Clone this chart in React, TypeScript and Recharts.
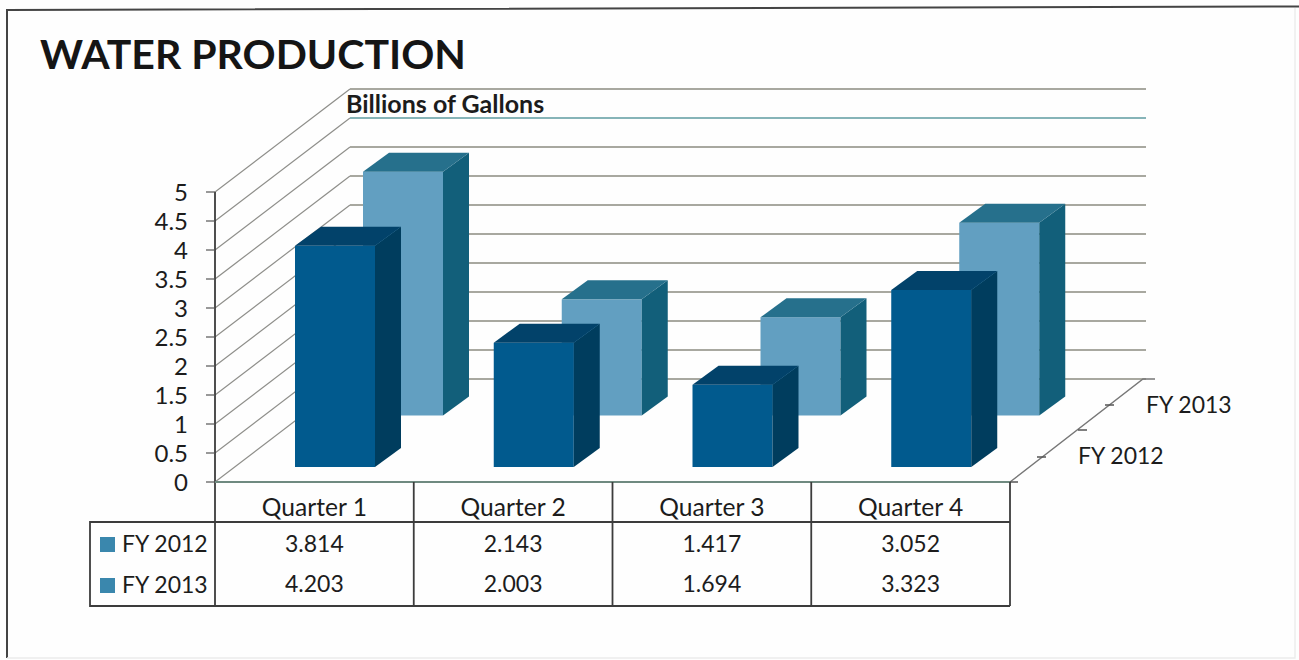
import React from "react";
import { BarChart, Bar, CartesianGrid, XAxis, YAxis } from "recharts";

const quarters = ["Quarter 1", "Quarter 2", "Quarter 3", "Quarter 4"];
const fy2012 = [3.814, 2.143, 1.417, 3.052];
const fy2013 = [4.203, 2.003, 1.694, 3.323];
const seriesNames = ["FY 2012", "FY 2013"];
const yTicks = [0, 0.5, 1, 1.5, 2, 2.5, 3, 3.5, 4, 4.5, 5];

const data = quarters.map((quarter, i) => ({
  quarter,
  fy2012: fy2012[i],
  fy2013: fy2013[i],
}));

const FONT = "Lato, Carlito, sans-serif";
const TEXT = "#1c1c1c";
const RULE = "#3c3c3c";

// plot box of the front plane, and how far the floor runs back from it
const LEFT = 215;
const RIGHT = 1010;
const TOP = 192;
const BOTTOM = 482;
const DEPTH_X = 135;
const DEPTH_Y = 103;
const HALF_BAND = (RIGHT - LEFT) / 8;

// table rows under the floor
const TABLE_LEFT = 90;
const HEAD_Y = 522;
const TABLE_BOTTOM = 606;
const ROW_BASELINES = [552, 593];

const FRONT_COLORS = { face: "#015a8e", side: "#003d5e", top: "#02426a" };
const BACK_COLORS = { face: "#629fc1", side: "#125f7a", top: "#26708c" };

type BoxColors = typeof FRONT_COLORS;

// a bar drawn as a box, pushed back along the floor by (dx, dy)
const box3d =
  (dx: number, dy: number, colors: BoxColors) =>
  (props: any) => {
    const { x, y, width, height } = props;
    const left = x + dx;
    const right = left + width;
    const top = y + dy;
    const bottom = top + height;
    const sx = 26;
    const sy = 19;
    return (
      <g>
        <rect x={left} y={top} width={width} height={height} fill={colors.face} />
        <polygon
          points={`${right},${top} ${right + sx},${top - sy} ${right + sx},${bottom - sy} ${right},${bottom}`}
          fill={colors.side}
        />
        <polygon
          points={`${left},${top} ${left + sx},${top - sy} ${right + sx},${top - sy} ${right},${top}`}
          fill={colors.top}
        />
      </g>
    );
  };

// gridline: up the side wall, then across the back wall
const WallLine = (props: any) => {
  const y = props.y1;
  const backX = LEFT + DEPTH_X;
  const backY = y - DEPTH_Y;
  const nearTop = Math.abs(y - (TOP + (BOTTOM - TOP) / 10)) < 1;
  return (
    <g fill="none">
      <line x1={LEFT} y1={y} x2={backX} y2={backY} stroke="#8e8e8a" strokeWidth={1.2} />
      <line
        x1={backX}
        y1={backY}
        x2={LEFT + 931}
        y2={backY}
        stroke={nearTop ? "#86b4b8" : "#a8a8a0"}
        strokeWidth={2}
      />
    </g>
  );
};

const WallTick = (props: any) => {
  const { y, payload } = props;
  return (
    <g>
      <line x1={LEFT - 9} x2={LEFT} y1={y} y2={y} stroke="#555" strokeWidth={1.2} />
      <text x={188} y={y + 9} textAnchor="end" fontFamily={FONT} fontSize={24} fill={TEXT}>
        {payload.value}
      </text>
    </g>
  );
};

// x tick: one column of the table, header plus both series values
const TableColumn = (props: any) => {
  const { x, payload, index } = props;
  return (
    <g fontFamily={FONT} fill={TEXT} textAnchor="middle">
      <text x={x} y={516} fontSize={24.6}>{payload.value}</text>
      <text x={x} y={ROW_BASELINES[0]} fontSize={23}>{fy2012[index].toFixed(3)}</text>
      <text x={x} y={ROW_BASELINES[1] - 1} fontSize={23}>{fy2013[index].toFixed(3)}</text>
      <line
        x1={x + HALF_BAND}
        x2={x + HALF_BAND}
        y1={BOTTOM}
        y2={TABLE_BOTTOM}
        stroke={RULE}
        strokeWidth={1.8}
      />
    </g>
  );
};

export default function App() {
  return (
    <div style={{ position: "absolute", left: 0, top: 0, width: 1299, height: 660, background: "#fefefe" }}>
      <BarChart
        width={1299}
        height={660}
        data={data}
        margin={{ top: TOP, right: 1299 - RIGHT, bottom: 0, left: 0 }}
        barCategoryGap={0}
      >
        {/* frame and heading */}
        <path d="M7 658 V10 L1299 6.5" fill="none" stroke="#444" strokeWidth={2} />
        <path d="M7 658 H1295 V8" fill="none" stroke="#ececec" strokeWidth={1.4} />
        <text x={40} y={69} fontFamily={FONT} fontWeight={700} fontSize={41} fill="#151515">
          WATER PRODUCTION
        </text>

        <CartesianGrid xAxisId="front" vertical={false} horizontal={WallLine} />

        <text x={346} y={113} fontFamily={FONT} fontWeight={700} fontSize={25} fill={TEXT}>
          Billions of Gallons
        </text>

        {/* floor edge and its depth axis */}
        <path
          d={`M${RIGHT} ${BOTTOM} L${RIGHT + DEPTH_X - 2} ${BOTTOM - DEPTH_Y} H${RIGHT + DEPTH_X + 10}`}
          fill="none"
          stroke="#777"
          strokeWidth={1.4}
        />
        <path
          d={`M${RIGHT} ${BOTTOM} h8 M1037 457 h9 M1078 430 h9 M1105 405 h9`}
          fill="none"
          stroke="#555"
          strokeWidth={1.4}
        />
        <g fontFamily={FONT} fontSize={23} fill={TEXT}>
          <text x={1078} y={464}>{seriesNames[0]}</text>
          <text x={1146} y={413}>{seriesNames[1]}</text>
        </g>

        {/* table rules and row headers */}
        <path
          d={`M${LEFT} ${TOP} V${TABLE_BOTTOM} H${TABLE_LEFT} V${HEAD_Y} H${RIGHT}`}
          fill="none"
          stroke={RULE}
          strokeWidth={1.8}
        />
        <line x1={LEFT} x2={RIGHT} y1={TABLE_BOTTOM} y2={TABLE_BOTTOM} stroke={RULE} strokeWidth={1.8} />
        {seriesNames.map((name, i) => (
          <g key={name}>
            <rect x={100} y={ROW_BASELINES[i] - 15} width={15} height={15} fill="#3a87ad" />
            <text x={122} y={ROW_BASELINES[i]} fontFamily={FONT} fontSize={23} fill={TEXT}>
              {name}
            </text>
          </g>
        ))}

        <XAxis xAxisId="back" dataKey="quarter" height={0} hide />
        <XAxis
          xAxisId="front"
          dataKey="quarter"
          height={660 - BOTTOM}
          interval={0}
          tickLine={false}
          axisLine={{ stroke: "#6f8a80", strokeWidth: 1.8 }}
          tick={<TableColumn />}
        />
        <YAxis
          width={LEFT}
          domain={[0, 5]}
          ticks={yTicks}
          interval={0}
          tickLine={false}
          axisLine={false}
          tick={<WallTick />}
        />
        <Bar
          xAxisId="back"
          dataKey="fy2013"
          name={seriesNames[1]}
          barSize={80}
          isAnimationActive={false}
          shape={box3d(89, -66.5, BACK_COLORS)}
        />
        <Bar
          xAxisId="front"
          dataKey="fy2012"
          name={seriesNames[0]}
          barSize={80}
          isAnimationActive={false}
          shape={box3d(21, -15, FRONT_COLORS)}
        />
      </BarChart>
    </div>
  );
}
